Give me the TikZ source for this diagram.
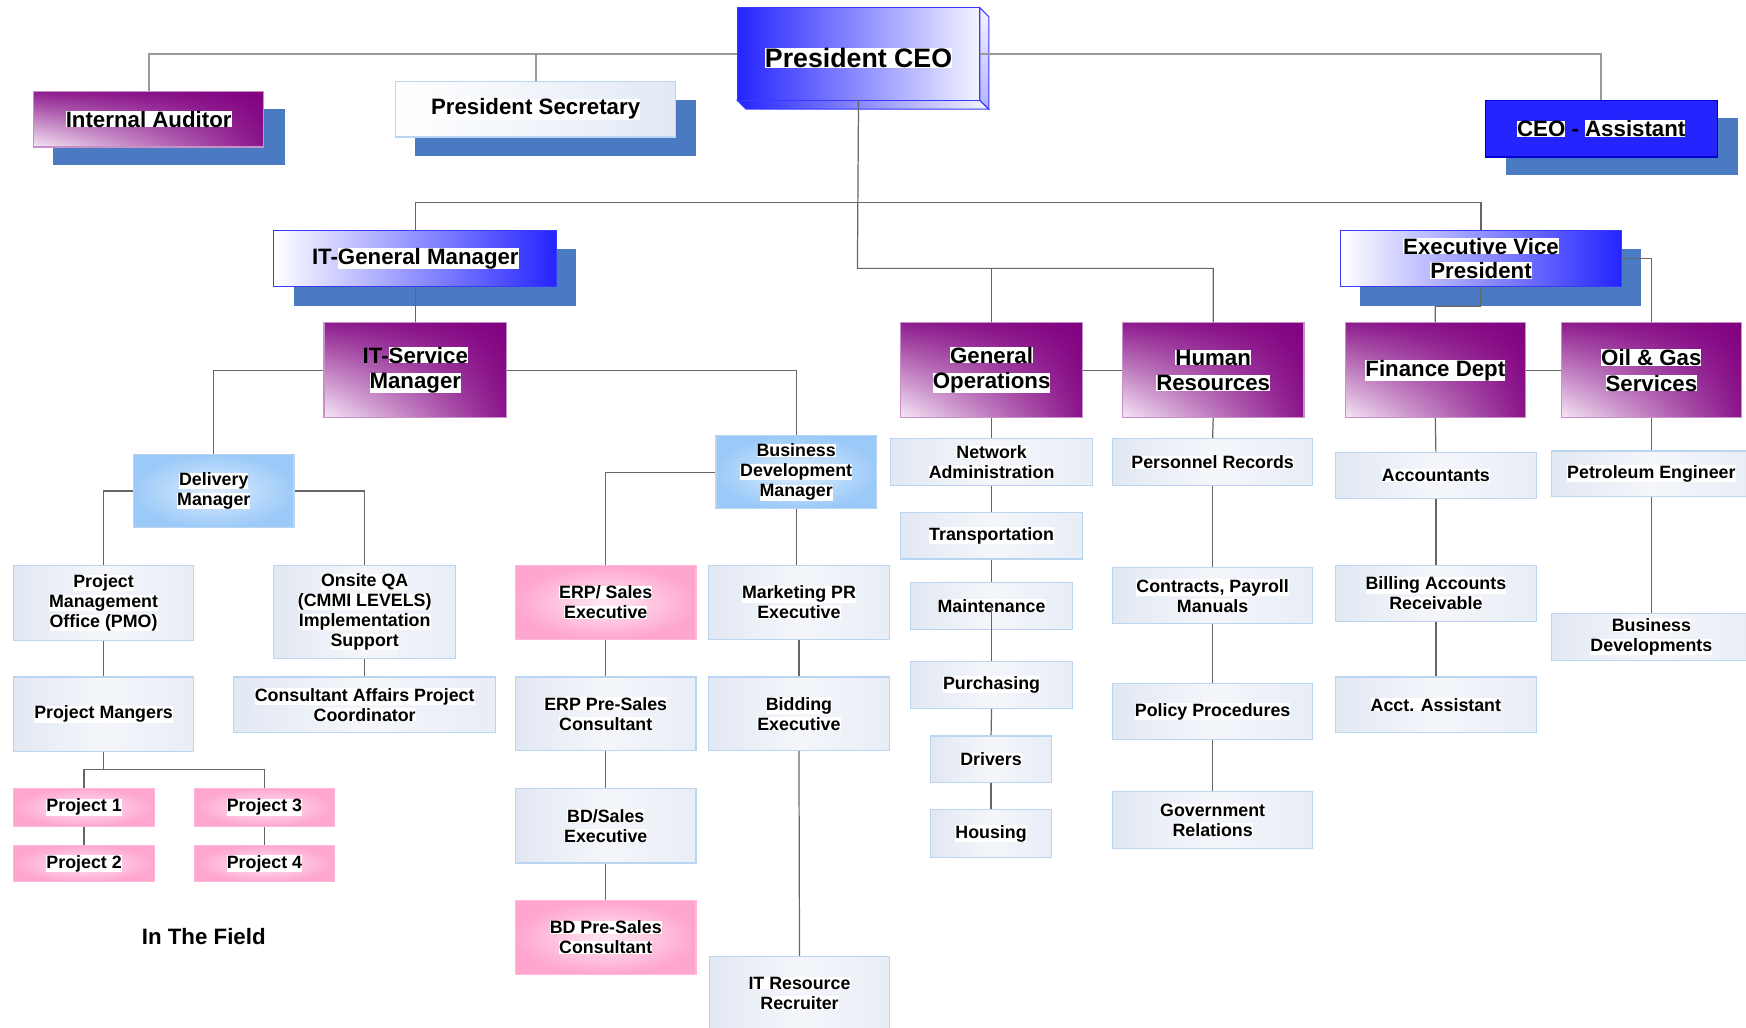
\documentclass[tikz,border=0pt]{standalone}
\usepackage{fontspec}
\setmainfont{Liberation Sans}
\usetikzlibrary{shadings}
\pgfdeclarelayer{back}\pgfdeclarelayer{mid}\pgfsetlayers{back,mid,main}
\definecolor{shadowc}{HTML}{4A7BC2}
\definecolor{purp}{HTML}{800080}
\definecolor{pll}{HTML}{F6E8F6}
\definecolor{pul}{HTML}{8E1E8E}
\definecolor{plr}{HTML}{8A148A}
\definecolor{pbord}{HTML}{C890C8}
\definecolor{bluef}{HTML}{2424FF}
\definecolor{blued}{HTML}{3A3AFF}
\definecolor{ceowhite}{HTML}{F4F4FF}
\definecolor{lgA}{HTML}{E2E8F3}
\definecolor{lgM}{HTML}{F4F6FA}
\definecolor{lgB}{HTML}{E8EDF6}
\definecolor{lbord}{HTML}{B9D5F2}
\definecolor{blin}{HTML}{DDEEFD}
\definecolor{blout}{HTML}{9CCAF8}
\definecolor{pkin}{HTML}{FFE8F3}
\definecolor{pkout}{HTML}{FFA6CF}
\definecolor{pkbord}{HTML}{FFB8D8}
\definecolor{psR}{HTML}{E2E9F5}
\definecolor{connc}{HTML}{666666}
\definecolor{topc}{HTML}{9A9A9A}
\newcommand\hl[1]{{\setlength{\fboxsep}{0pt}\colorbox{white}{#1}}}
\newcommand\bx[7]{\node[#1, minimum width={(#5-#3)*0.5pt}, minimum height={(#6-#4)*0.5pt}]
  (#2) at ({(#3+#5)/2},{(#4+#6)/2}) {#7};}
\tikzset{
  base/.style={inner sep=0pt, align=center, line width=0.5pt},
  purplebox/.style={base, lower left=pll, upper left=pul, upper right=purp, lower right=plr, draw=pbord, font=\fontsize{10}{11.5}\selectfont\bfseries},
  whitebluebox/.style={base, left color=white, right color=bluef, draw=blued, font=\fontsize{10}{11}\selectfont\bfseries},
  secbox/.style={base, left color=white, right color=psR, draw=lbord, font=\fontsize{10}{11.5}\selectfont\bfseries},
  solidblue/.style={base, fill=bluef, draw=blue!80!black, font=\fontsize{10}{11.5}\selectfont\bfseries},
  lightbox/.style={base, left color=lgA, right color=lgB, middle color=lgM, draw=lbord, font=\fontsize{8}{9}\selectfont\bfseries},
  skybox/.style={base, inner color=blin, outer color=blout, draw=lbord, font=\fontsize{8}{9}\selectfont\bfseries},
  pinkbox/.style={base, inner color=pkin, outer color=pkout, draw=pkbord, font=\fontsize{8}{9}\selectfont\bfseries},
  conn/.style={draw=connc, line width=0.55pt},
  topconn/.style={draw=topc, line width=0.8pt},
  shadowbox/.style={fill=shadowc}
}
\begin{document}
\begin{tikzpicture}[x=0.5pt,y=-0.5pt]
\useasboundingbox (0,0) rectangle (1568,923);
% ---------- shadows and 3D faces
\begin{pgfonlayer}{back}
  \fill[shadowbox] (48,98) rectangle (256,148);
  \fill[shadowbox] (373,90) rectangle (625,140);
  \fill[shadowbox] (1352,106) rectangle (1561,157);
  \fill[shadowbox] (264,224) rectangle (517,275);
  \fill[shadowbox] (1221,224) rectangle (1474,275);
  % CEO depth faces
  \shade[left color=bluef, right color=ceowhite, draw=blued, line width=0.5pt]
    (662,90) -- (670,98) -- (888,98) -- (880,90) -- cycle;
  \shade[top color=ceowhite, bottom color=blue!30!white, draw=blued, line width=0.5pt]
    (880,7) -- (888,15) -- (888,98) -- (880,90) -- cycle;
\end{pgfonlayer}
% ---------- nodes
\bx{base, left color=bluef, right color=ceowhite, draw=blued, font=\fontsize{12}{14}\selectfont\bfseries}{ceo}{662}{7}{880}{90}{\raisebox{-1.75pt}[\height][0pt]{\hl{President CEO}}}
\bx{purplebox}{ia}{30}{82}{237}{132}{\hl{Internal Auditor}}
\bx{secbox}{ps}{355}{73}{607}{123}{\hl{President Secretary}}
\bx{solidblue}{ca}{1334}{90}{1542}{141}{\hl{CEO} - \hl{Assistant}}
\bx{whitebluebox}{itgm}{246}{207}{500}{257}{IT-\hl{General Manager}}
\bx{whitebluebox}{evp}{1204}{207}{1456}{257}{\hl{Executive Vice}\\\hl{President}}
\bx{purplebox}{itsm}{291}{290}{455}{375}{IT-\hl{Service}\\\hl{Manager}}
\bx{purplebox}{go}{809}{290}{972}{375}{\hl{General}\\\hl{Operations}}
\bx{purplebox}{hr}{1008}{290}{1171}{375}{\hl{Human}\\\hl{Resources}}
\bx{purplebox}{fin}{1208}{290}{1370}{375}{\hl{Finance Dept}}
\bx{purplebox}{oil}{1402}{290}{1564}{375}{\hl{Oil \& Gas}\\\hl{Services}}
% IT side
\bx{skybox}{dm}{120}{408}{264}{474}{\hl{Delivery}\\\hl{Manager}}
\bx{lightbox}{pmo}{12}{508}{174}{575}{\hl{Project}\\\hl{Management}\\\hl{Office (PMO)}}
\bx{lightbox}{qa}{246}{508}{409}{591}{\hl{Onsite QA}\\\hl{(CMMI LEVELS)}\\\hl{Implementation}\\\hl{Support}}
\bx{lightbox}{pm}{12}{608}{174}{675}{\hl{Project Mangers}}
\bx{lightbox}{cac}{210}{608}{445}{658}{\hl{Consultant Affairs Project}\\\hl{Coordinator}}
\bx{pinkbox}{p1}{12}{708}{139}{742}{\hl{Project 1}}
\bx{pinkbox}{p2}{12}{759}{139}{792}{\hl{Project 2}}
\bx{pinkbox}{p3}{175}{708}{300}{742}{\hl{Project 3}}
\bx{pinkbox}{p4}{175}{759}{300}{792}{\hl{Project 4}}
\node[font=\fontsize{10}{12}\selectfont\bfseries, inner sep=0pt] (field) at (183,841) {In The Field};
% BD side
\bx{skybox}{bdm}{643}{391}{787}{457}{\hl{Business}\\\hl{Development}\\\hl{Manager}}
\bx{pinkbox}{erp}{463}{508}{625}{574}{\hl{ERP/ Sales}\\\hl{Executive}}
\bx{lightbox}{mkt}{636}{508}{799}{574}{\hl{Marketing PR}\\\hl{Executive}}
\bx{lightbox}{erppre}{463}{608}{625}{674}{\hl{ERP Pre-Sales}\\\hl{Consultant}}
\bx{lightbox}{bid}{636}{608}{799}{674}{\hl{Bidding}\\\hl{Executive}}
\bx{lightbox}{bds}{463}{708}{625}{775}{\hl{BD/Sales}\\\hl{Executive}}
\bx{pinkbox}{bdpre}{463}{809}{625}{875}{\hl{BD Pre-Sales}\\\hl{Consultant}}
\bx{lightbox}{itr}{637}{859}{799}{925}{\hl{IT Resource}\\\hl{Recruiter}}
% General operations
\bx{lightbox}{na}{800}{394}{981}{436}{\hl{Network}\\\hl{Administration}}
\bx{lightbox}{tr}{809}{460}{972}{502}{\hl{Transportation}}
\bx{lightbox}{mt}{818}{523}{963}{565}{\hl{Maintenance}}
\bx{lightbox}{pu}{818}{594}{963}{636}{\hl{Purchasing}}
\bx{lightbox}{dr}{836}{661}{944}{703}{\hl{Drivers}}
\bx{lightbox}{ho}{836}{727}{944}{770}{\hl{Housing}}
% HR
\bx{lightbox}{prr}{999}{394}{1179}{436}{\hl{Personnel Records}}
\bx{lightbox}{cpm}{999}{510}{1179}{560}{\hl{Contracts, Payroll}\\\hl{Manuals}}
\bx{lightbox}{pol}{999}{614}{1179}{664}{\hl{Policy Procedures}}
\bx{lightbox}{gov}{999}{711}{1179}{762}{\hl{Government}\\\hl{Relations}}
% Finance
\bx{lightbox}{acc}{1199}{406}{1380}{448}{\hl{Accountants}}
\bx{lightbox}{bar}{1199}{508}{1380}{558}{\hl{Billing Accounts}\\\hl{Receivable}}
\bx{lightbox}{aa}{1199}{608}{1380}{658}{\hl{Acct. Assistant}}
% Oil & gas
\bx{lightbox}{pet}{1393}{405}{1573}{446}{\hl{Petroleum Engineer}}
\bx{lightbox}{bdv}{1393}{551}{1573}{593}{\hl{Business}\\\hl{Developments}}
% ---------- connectors
\coordinate (jA) at (770,182);
\coordinate (jB) at (770,241);
\coordinate (jE) at (1329.5,275);
\coordinate (jP) at (93,691);
\coordinate (jM) at (734,508);
\begin{pgfonlayer}{mid}
  \draw[topconn] (ia.north) |- (ceo.west);
  \draw[topconn] (ps.north) |- (ceo.west);
  \draw[topconn] (ceo.east) -| (ca.north);
  \draw[conn] (ceo.south) -- (jB) -| (hr.north);
  \draw[conn] (jB) -| (go.north);
  \draw[conn] (itgm.north) |- (jA) -| (evp.north);
  \draw[conn] (itgm.south) -- (itsm.north);
  \draw[conn] (itsm.west) -| (dm.north);
  \draw[conn] (itsm.east) -| (bdm.north);
  \draw[conn] (dm.west) -| (pmo.north);
  \draw[conn] (dm.east) -| (qa.north);
  \draw[conn] (pmo.south) -- (pm.north);
  \draw[conn] (qa.south) -- (cac.north);
  \draw[conn] (pm.south) -- (jP);
  \draw[conn] (p1.north) |- (jP) -| (p3.north);
  \draw[conn] (p1.south) -- (p2.north);
  \draw[conn] (p3.south) -- (p4.north);
  \draw[conn] (bdm.west) -| (erp.north);
  \draw[conn] (bdm.south) |- (jM);
  \draw[conn] (erp.south) -- (erppre.north);
  \draw[conn] (erppre.south) -- (bds.north);
  \draw[conn] (bds.south) -- (bdpre.north);
  \draw[conn] (mkt.south) -- (bid.north);
  \draw[conn] (bid.south) -- (itr.north);
  \draw[conn] (go.south) -- (na.north);
  \draw[conn] (na.south) -- (tr.north);
  \draw[conn] (tr.south) -- (mt.north);
  \draw[conn] (mt.south) -- (pu.north);
  \draw[conn] (pu.south) -- (dr.north);
  \draw[conn] (dr.south) -- (ho.north);
  \draw[conn] (go.east) -- (hr.west);
  \draw[conn] (hr.south) -- (prr.north);
  \draw[conn] (prr.south) -- (cpm.north);
  \draw[conn] (cpm.south) -- (pol.north);
  \draw[conn] (pol.south) -- (gov.north);
  \draw[conn] (evp.south) -- (jE) -| (fin.north);
  \draw[conn] (evp.east) -| (oil.north);
  \draw[conn] (fin.east) -- (oil.west);
  \draw[conn] (fin.south) -- (acc.north);
  \draw[conn] (acc.south) -- (bar.north);
  \draw[conn] (bar.south) -- (aa.north);
  \draw[conn] (oil.south) -- (pet.north);
  \draw[conn] (pet.south) -- (bdv.north);
\end{pgfonlayer}
\draw[conn] (mt.center) -- (mt.south);
\end{tikzpicture}
\end{document}
